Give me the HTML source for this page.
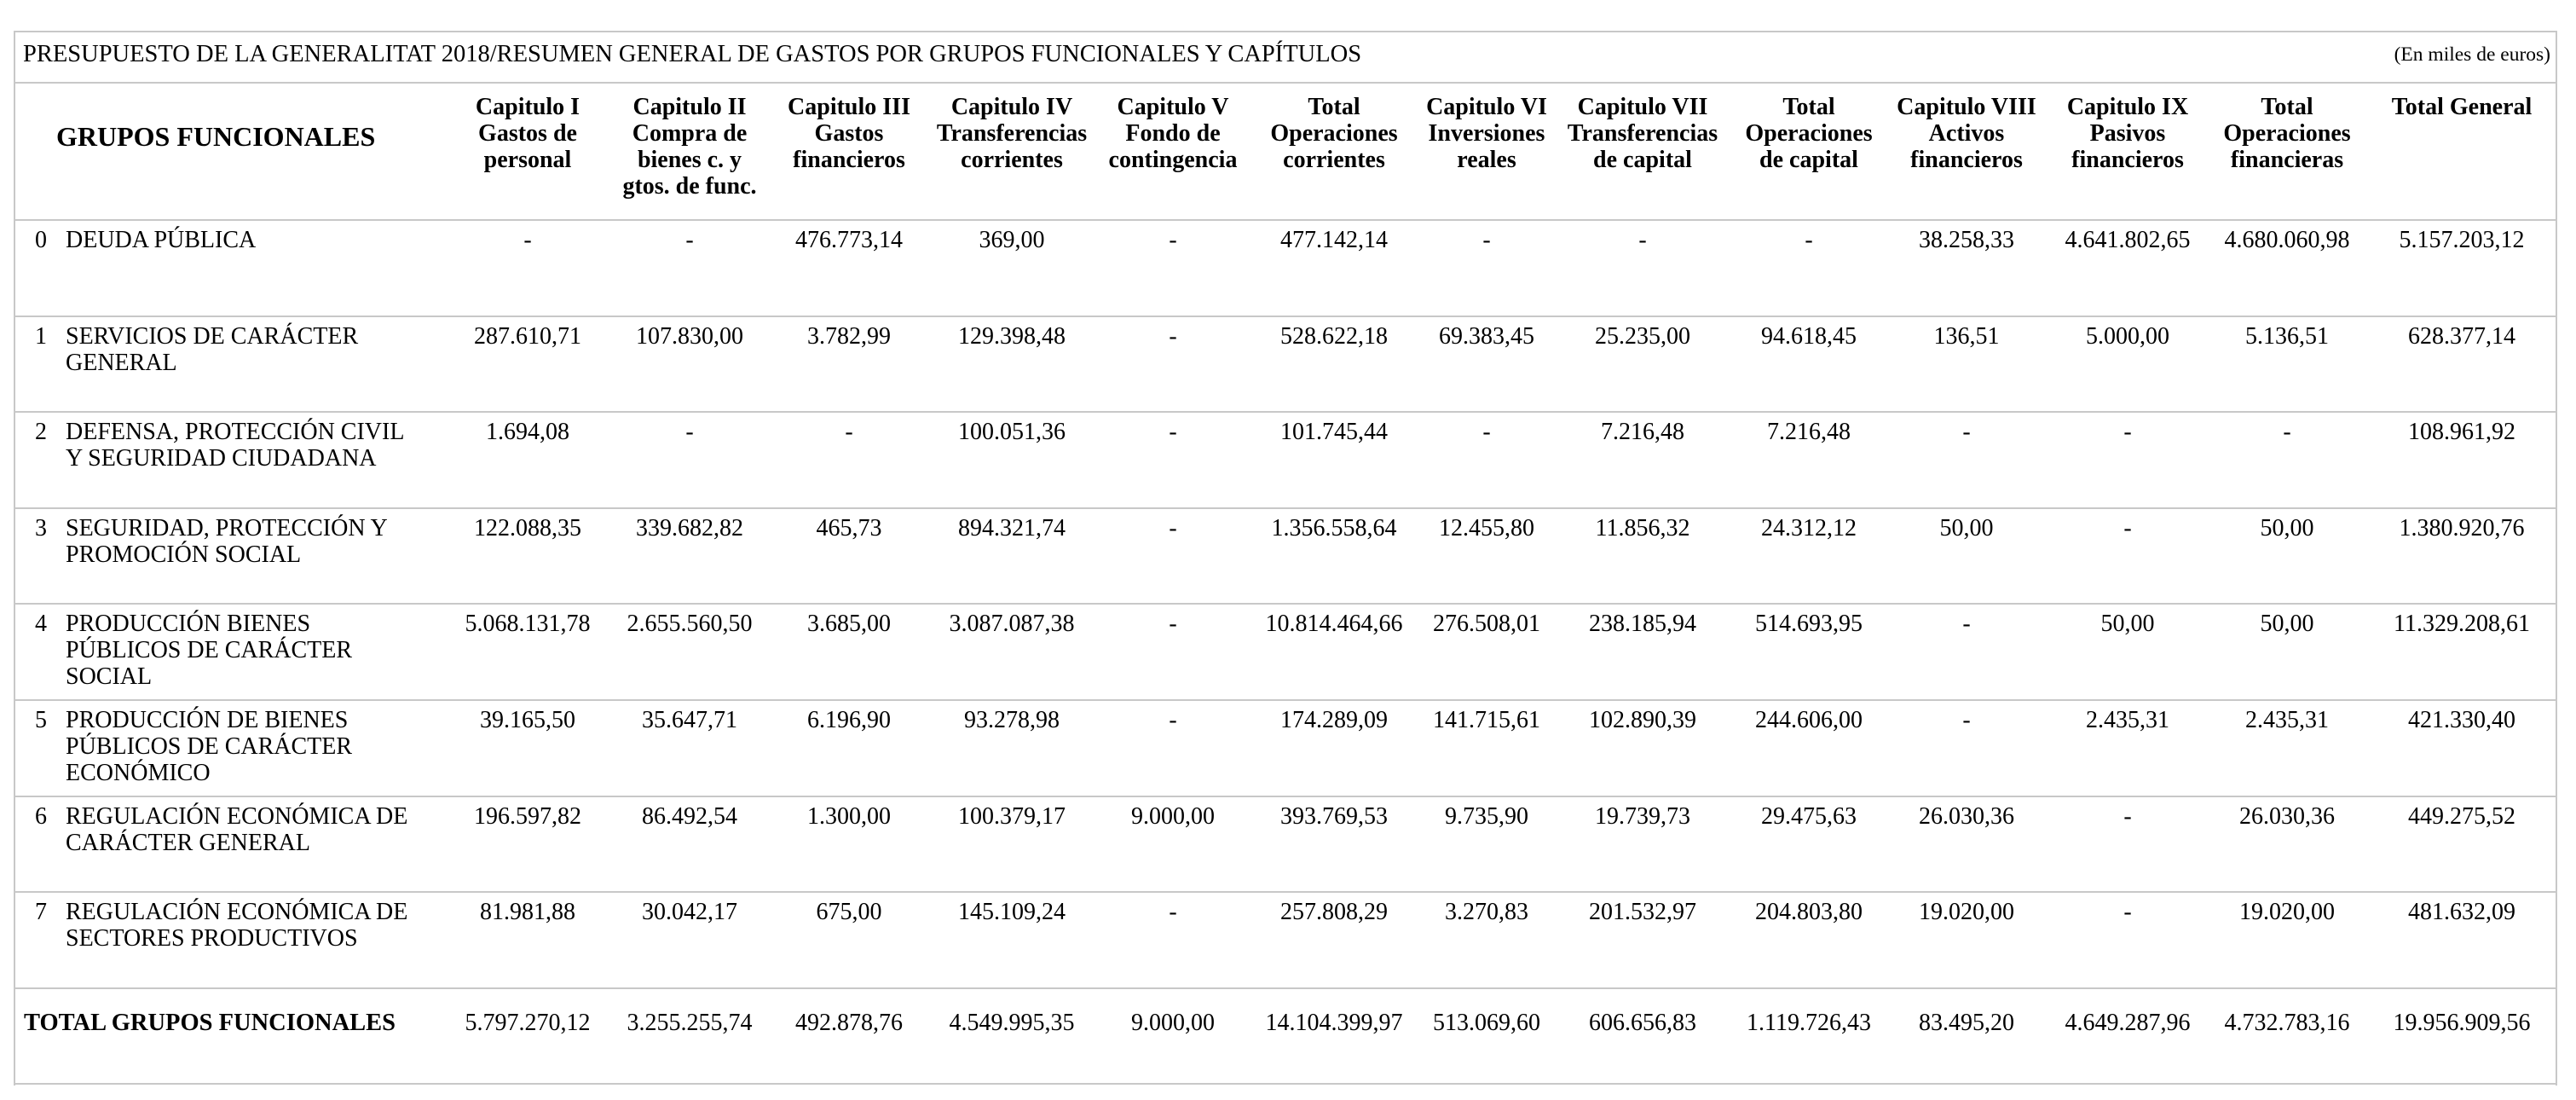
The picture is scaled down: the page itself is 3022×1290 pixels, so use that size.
<!DOCTYPE html>
<html><head><meta charset="utf-8">
<style>
html,body{margin:0;padding:0;background:#fff;}
#page{position:relative;width:3022px;height:1290px;overflow:hidden;font-family:"Liberation Serif",serif;color:#000;}
.hl{position:absolute;left:16px;width:2984px;height:2px;background:#c8c8c8;}
.vl{position:absolute;width:2px;background:#c8c8c8;}
.t{position:absolute;white-space:nowrap;}
.c{position:absolute;text-align:center;transform:translateX(-50%);white-space:nowrap;font-size:28px;line-height:32px;}
.h{position:absolute;text-align:center;transform:translateX(-50%);white-space:nowrap;font-weight:bold;font-size:28px;line-height:31px;top:110px;}
.lab{position:absolute;font-size:28px;line-height:31px;}
</style></head>
<body>
<div id="page">
<div class="hl" style="top:36px"></div>
<div class="hl" style="top:96px"></div>
<div class="vl" style="left:16px;top:36px;height:1237px"></div>
<div class="vl" style="left:2998px;top:36px;height:1237px"></div>
<div class="t" style="left:27px;top:47px;font-size:28.5px;line-height:34px">PRESUPUESTO DE LA GENERALITAT 2018/RESUMEN GENERAL DE GASTOS POR GRUPOS FUNCIONALES Y CAPÍTULOS</div>
<div class="t" style="right:30px;top:50px;font-size:23.5px;line-height:28px">(En miles de euros)</div>
<div class="t" style="left:66px;top:141px;font-size:32px;font-weight:bold;line-height:38px">GRUPOS FUNCIONALES</div>
<div id="rows"></div>
</div>
<script>
const colCenters=[619,809,996,1187,1376,1565,1744,1927,2122,2307,2496,2683,2888];
const headers=["Capitulo I<br>Gastos de<br>personal","Capitulo II<br>Compra de<br>bienes c. y<br>gtos. de func.","Capitulo III<br>Gastos<br>financieros","Capitulo IV<br>Transferencias<br>corrientes","Capitulo V<br>Fondo de<br>contingencia","Total<br>Operaciones<br>corrientes","Capitulo VI<br>Inversiones<br>reales","Capitulo VII<br>Transferencias<br>de capital","Total<br>Operaciones<br>de capital","Capitulo VIII<br>Activos<br>financieros","Capitulo IX<br>Pasivos<br>financieros","Total<br>Operaciones<br>financieras","Total General"];
const codes=["0","1","2","3","4","5","6","7"];
const labels=["DEUDA PÚBLICA","SERVICIOS DE CARÁCTER<br>GENERAL","DEFENSA, PROTECCIÓN CIVIL<br>Y SEGURIDAD CIUDADANA","SEGURIDAD, PROTECCIÓN Y<br>PROMOCIÓN SOCIAL","PRODUCCIÓN BIENES<br>PÚBLICOS DE CARÁCTER<br>SOCIAL","PRODUCCIÓN DE BIENES<br>PÚBLICOS DE CARÁCTER<br>ECONÓMICO","REGULACIÓN ECONÓMICA DE<br>CARÁCTER GENERAL","REGULACIÓN ECONÓMICA DE<br>SECTORES PRODUCTIVOS"];
const row0=["-","-","476.773,14","369,00","-","477.142,14","-","-","-","38.258,33","4.641.802,65","4.680.060,98","5.157.203,12"];
const row1=["287.610,71","107.830,00","3.782,99","129.398,48","-","528.622,18","69.383,45","25.235,00","94.618,45","136,51","5.000,00","5.136,51","628.377,14"];
const row2=["1.694,08","-","-","100.051,36","-","101.745,44","-","7.216,48","7.216,48","-","-","-","108.961,92"];
const row3=["122.088,35","339.682,82","465,73","894.321,74","-","1.356.558,64","12.455,80","11.856,32","24.312,12","50,00","-","50,00","1.380.920,76"];
const row4=["5.068.131,78","2.655.560,50","3.685,00","3.087.087,38","-","10.814.464,66","276.508,01","238.185,94","514.693,95","-","50,00","50,00","11.329.208,61"];
const row5=["39.165,50","35.647,71","6.196,90","93.278,98","-","174.289,09","141.715,61","102.890,39","244.606,00","-","2.435,31","2.435,31","421.330,40"];
const row6=["196.597,82","86.492,54","1.300,00","100.379,17","9.000,00","393.769,53","9.735,90","19.739,73","29.475,63","26.030,36","-","26.030,36","449.275,52"];
const row7=["81.981,88","30.042,17","675,00","145.109,24","-","257.808,29","3.270,83","201.532,97","204.803,80","19.020,00","-","19.020,00","481.632,09"];
const totals=["5.797.270,12","3.255.255,74","492.878,76","4.549.995,35","9.000,00","14.104.399,97","513.069,60","606.656,83","1.119.726,43","83.495,20","4.649.287,96","4.732.783,16","19.956.909,56"];
const rows=[row0,row1,row2,row3,row4,row5,row6,row7];
const page=document.getElementById('page');
const rowTop=258, rowH=112.6;
headers.forEach((h,i)=>{
  const d=document.createElement('div');
  d.className='h';
  d.style.left=colCenters[i]+'px';
  d.innerHTML=h;
  
  
  page.appendChild(d);
});
for(let r=0;r<=9;r++){
  const l=document.createElement('div');
  l.className='hl';
  l.style.top=Math.round(rowTop+r*rowH-1)+'px';
  
  
  page.appendChild(l);
}
rows.forEach((vals,r)=>{
  const y=rowTop+r*rowH;
  const cd=document.createElement('div');
  cd.className='lab';
  cd.style.left='41px';cd.style.top=Math.round(y+8)+'px';
  cd.textContent=codes[r];
  
  
  page.appendChild(cd);
  const lb=document.createElement('div');
  lb.className='lab';
  lb.style.left='77px';lb.style.top=Math.round(y+8)+'px';
  lb.innerHTML=labels[r];
  
  
  page.appendChild(lb);
  vals.forEach((v,i)=>{
    const c=document.createElement('div');
    c.className='c';
    c.style.left=colCenters[i]+'px';c.style.top=Math.round(y+8)+'px';
    c.textContent=v;
    
    
    page.appendChild(c);
  });
});
const ty=rowTop+8*rowH;
const tl=document.createElement('div');
tl.className='lab';
tl.style.left='28px';tl.style.top=Math.round(ty+25)+'px';tl.style.fontWeight='bold';tl.style.fontSize='28.5px';
tl.textContent='TOTAL GRUPOS FUNCIONALES';


page.appendChild(tl);
totals.forEach((v,i)=>{
  const c=document.createElement('div');
  c.className='c';
  c.style.left=colCenters[i]+'px';c.style.top=Math.round(ty+25)+'px';
  c.textContent=v;
  
  
  page.appendChild(c);
});
</script>
</body></html>
